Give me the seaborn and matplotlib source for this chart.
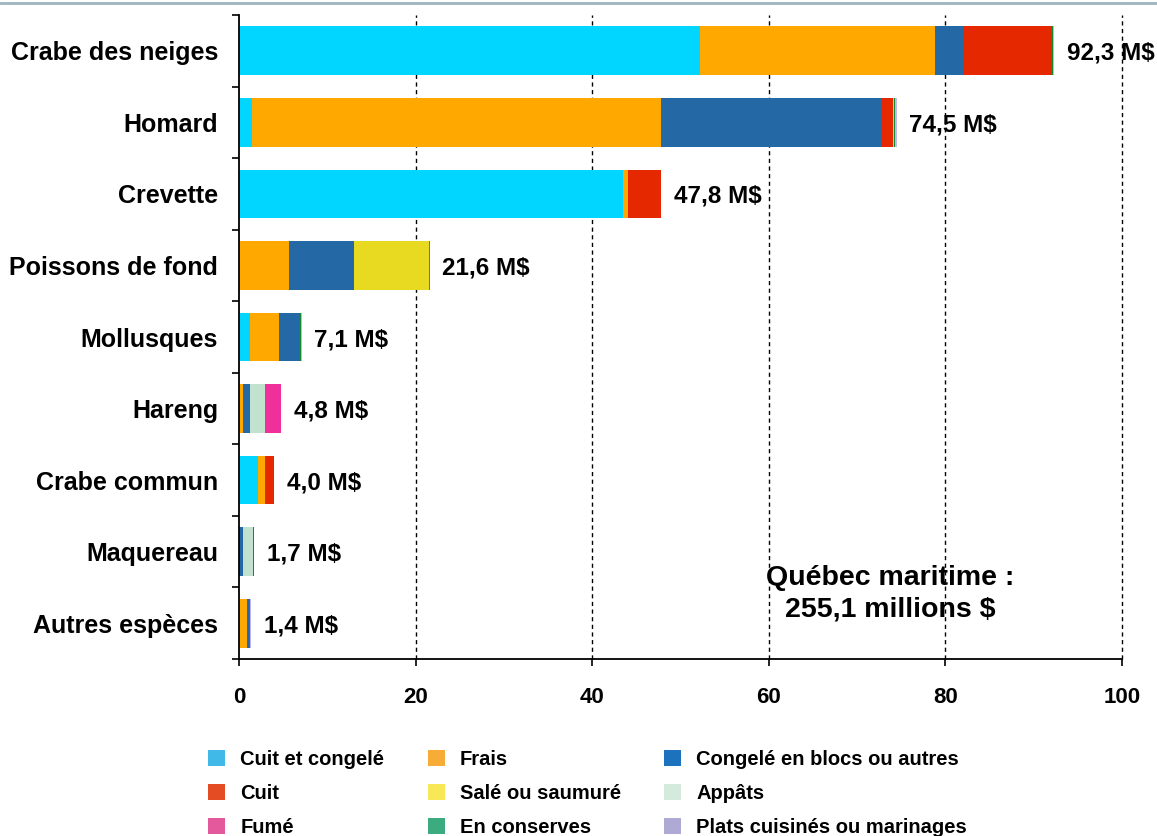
import matplotlib
matplotlib.use("Agg")
import matplotlib.pyplot as plt
from matplotlib.patches import Patch
from matplotlib.lines import Line2D
import numpy as np
import pandas as pd
import seaborn as sns

# Species (rows of the chart)
species = ["Crabe des neiges", "Homard", "Crevette", "Poissons de fond",
           "Mollusques", "Hareng", "Crabe commun", "Maquereau", "Autres espèces"]

# Value of shipments by product type, in millions of dollars
cuit_congele = [52.2, 1.5, 43.5, 0.0, 1.2, 0.0, 2.1, 0.0, 0.0]
frais        = [26.6, 46.3, 0.5, 5.7, 3.3, 0.4, 0.8, 0.0, 0.9]
congele      = [3.3, 25.0, 0.0, 7.3, 2.3, 0.9, 0.2, 0.5, 0.3]
cuit         = [10.0, 1.3, 3.8, 0.0, 0.0, 0.0, 0.9, 0.0, 0.0]
sale         = [0.0, 0.1, 0.0, 8.5, 0.0, 0.0, 0.0, 0.0, 0.0]
appats       = [0.0, 0.0, 0.0, 0.0, 0.0, 1.7, 0.0, 1.1, 0.0]
fume         = [0.0, 0.0, 0.0, 0.1, 0.0, 1.7, 0.0, 0.0, 0.1]
conserves    = [0.1, 0.1, 0.0, 0.0, 0.2, 0.0, 0.0, 0.1, 0.0]
plats        = [0.1, 0.2, 0.0, 0.0, 0.1, 0.1, 0.0, 0.0, 0.1]

product_names = ["Cuit et congelé", "Frais", "Congelé en blocs ou autres",
                 "Cuit", "Salé ou saumuré", "Appâts",
                 "Fumé", "En conserves", "Plats cuisinés ou marinages"]
product_values = [cuit_congele, frais, congele, cuit, sale, appats,
                  fume, conserves, plats]

total_label = "Québec maritime :\n255,1 millions $"

bar_colors = ["#00D6FF", "#FFA800", "#2469A6", "#E62800", "#E8DA20",
              "#C2E2D0", "#F0309A", "#128A30", "#C4B4F0"]
legend_colors = ["#40B8E8", "#F8AC38", "#1C72BC", "#E44C24", "#F8E858",
                 "#D4EADC", "#E4589C", "#3CAC80", "#AEAAD4"]

sns.set_theme(style="white")
plt.rcParams["font.family"] = ["Liberation Sans", "DejaVu Sans"]
plt.rcParams["font.weight"] = "bold"
plt.rcParams["text.color"] = "black"
plt.rcParams["xtick.color"] = "black"
plt.rcParams["ytick.color"] = "black"
plt.rcParams["axes.labelcolor"] = "black"

fig = plt.figure(figsize=(11.57, 8.36), dpi=100)
ax = fig.add_axes([239 / 1157, 1 - 659 / 836, 883 / 1157, 644 / 836])

# Dashed vertical grid behind the bars
for gx in [20, 40, 60, 80, 100]:
    ax.axvline(gx, color="black", linestyle=(0, (3, 2.5)), linewidth=1.0,
               zorder=0, clip_on=False)

# Stacked bars: draw cumulative totals from the last layer to the first
df = pd.DataFrame({name: vals for name, vals in zip(product_names, product_values)},
                  index=species)
cum = df.cumsum(axis=1)
for k in range(len(product_names) - 1, -1, -1):
    layer = pd.DataFrame({"espece": species, "valeur": cum.iloc[:, k].values})
    sns.barplot(data=layer, x="valeur", y="espece", orient="h",
                color=bar_colors[k], saturation=1, width=0.68,
                linewidth=0, ax=ax, zorder=2)

# Total labels at the end of each bar
totals = df.sum(axis=1).round(1)
for i, tot in enumerate(totals):
    ax.annotate(f"{tot:.1f}".replace(".", ",") + " M$", xy=(tot, i),
                xytext=(9, 0), textcoords="offset points",
                va="center_baseline", ha="left", fontsize=17.5, fontweight="bold",
                color="black", zorder=1)

ax.text(0.737, 0.101, total_label, transform=ax.transAxes, ha="center",
        va="center", fontsize=20.5, fontweight="bold", linespacing=1.27,
        color="black")

# Axes styling
ax.set_xlim(0, 100)
ax.set_ylim(len(species) - 0.5, -0.5)
ax.set_xlabel("")
ax.set_ylabel("")
ax.set_xticks([0, 20, 40, 60, 80, 100])
ax.set_xticklabels(["0", "20", "40", "60", "80", "100"], fontsize=16, fontweight="bold")
ax.set_yticks(np.arange(-0.5, len(species), 1.0))
ax.set_yticklabels([])
ax.set_yticks(np.arange(len(species)), minor=True)
ax.set_yticklabels(species, minor=True, fontsize=18, fontweight="bold")
ax.tick_params(axis="y", which="major", length=5, width=1.2, color="black", left=True)
ax.tick_params(axis="y", which="minor", length=0, pad=15)
ax.tick_params(axis="x", which="major", length=5, width=1.2, color="black",
               bottom=True, pad=15)
for side in ["top", "right"]:
    ax.spines[side].set_visible(False)
for side in ["left", "bottom"]:
    ax.spines[side].set_color("black")
    ax.spines[side].set_linewidth(1.3)
ax.grid(False)

# Thin rule along the top of the figure
fig.add_artist(Line2D([0, 1], [1 - 3 / 836, 1 - 3 / 836], transform=fig.transFigure,
                      color="#9EB4C0", linewidth=2))

# Legend, filled row by row in three columns
order = [0, 3, 6, 1, 4, 7, 2, 5, 8]
handles = [Patch(facecolor=legend_colors[j], edgecolor="none", label=product_names[j])
           for j in order]
fig.legend(handles=handles, ncol=3, loc="upper left",
           bbox_to_anchor=(208 / 1157, 1 - 750 / 836), frameon=False,
           prop={"size": 14.5, "weight": "bold"}, handlelength=0.85, handleheight=0.85,
           handletextpad=0.75, columnspacing=2.15, labelspacing=0.75,
           borderpad=0, borderaxespad=0, labelcolor="black")

fig.savefig("out.png", dpi=100)
